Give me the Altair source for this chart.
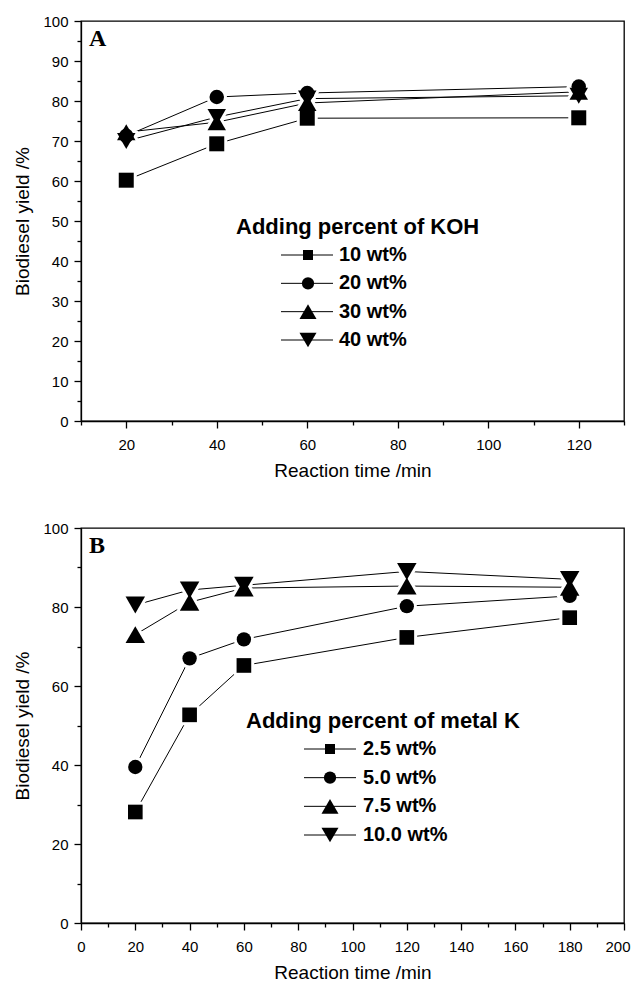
import altair as alt
import pandas as pd

# ---------------- data ----------------
a_time = [20, 40, 60, 120]
a_series = ["10 wt%", "20 wt%", "30 wt%", "40 wt%"]
a_10 = [60.2, 69.3, 75.7, 75.8]
a_20 = [71.3, 81.0, 82.0, 83.6]
a_30 = [72.2, 74.7, 79.5, 82.3]
a_40 = [70.0, 76.0, 80.6, 81.3]

b_time = [20, 40, 60, 120, 180]
b_series = ["2.5 wt%", "5.0 wt%", "7.5 wt%", "10.0 wt%"]
b_25 = [28.1, 52.7, 65.2, 72.3, 77.3]
b_50 = [39.5, 67.0, 71.8, 80.2, 82.8]
b_75 = [73.0, 81.2, 84.8, 85.3, 85.0]
b_100 = [80.5, 84.3, 85.5, 89.0, 87.0]

a_legend_title = "Adding percent of KOH"
b_legend_title = "Adding percent of metal K"
x_title = "Reaction time /min"
y_title = "Biodiesel yield /%"

shapes = ["square", "circle", "triangle-up", "triangle-down"]


def long_df(times, names, values):
    rows = []
    for name, vals in zip(names, values):
        for t, v in zip(times, vals):
            rows.append({"time": t, "yield": v, "series": name})
    return pd.DataFrame(rows)


def panel(df, names, sizes, leg_sizes, xdom, xstep, xmaj, ystep, ymaj, w, h, leg, letter, legend_title):
    xvals = list(range(xdom[0], xdom[1] + 1, xstep))
    yvals = list(range(0, 101, ystep))
    x = alt.X(
        "time:Q",
        scale=alt.Scale(domain=xdom, nice=False, zero=False),
        axis=alt.Axis(
            values=xvals,
            labelExpr=f"datum.value % {xmaj} == 0 ? datum.label : ''",
            tickSize={"condition": {"test": f"datum.value % {xmaj} == 0", "value": 7}, "value": 4},
            labelAlign={"condition": {"test": f"datum.value == {xdom[1]}", "value": "right"},
                        "value": "center"},
            labelOffset={"condition": {"test": f"datum.value == {xdom[1]}", "value": 6}, "value": 0},
            title=x_title,
            labelPadding=9,
            titlePadding=9,
            labelFlush=False,
            labelOverlap=False,
        ),
    )
    y = alt.Y(
        "yield:Q",
        scale=alt.Scale(domain=[0, 100], nice=False),
        axis=alt.Axis(
            values=yvals,
            labelExpr=f"datum.value % {ymaj} == 0 ? datum.label : ''",
            tickSize={"condition": {"test": f"datum.value % {ymaj} == 0", "value": 7}, "value": 4},
            title=y_title,
            labelPadding=6,
            titlePadding=10,
            labelFlush=False,
            labelOverlap=False,
        ),
    )
    shape = alt.Shape("series:N", scale=alt.Scale(domain=names, range=shapes), legend=None)
    size = alt.Size("series:N", scale=alt.Scale(type="ordinal", domain=names, range=sizes), legend=None)

    base = alt.Chart(df)
    lines = base.mark_line(color="black", strokeWidth=1).encode(x=x, y=y, detail="series:N", order="time:Q")
    halo = base.mark_point(filled=True, fill="white", stroke="white", strokeWidth=6,
                           strokeJoin="round", opacity=1).encode(x=x, y=y, shape=shape, size=size)
    marks = base.mark_point(filled=True, color="black", opacity=1, strokeWidth=0).encode(
        x=x, y=y, shape=shape, size=size)
    data_layer = alt.layer(lines, halo, marks)

    leg_df = pd.DataFrame({"series": names})
    ly = alt.Y("series:N", scale=alt.Scale(type="point", domain=names, range=[leg["y0"], leg["y1"]], padding=0),
               axis=None)
    lbase = alt.Chart(leg_df)
    lrule = lbase.mark_rule(color="black", strokeWidth=1).encode(
        x=alt.value(leg["lx0"]), x2=alt.value(leg["lx1"]), y=ly)
    lpts = lbase.mark_point(filled=True, color="black", opacity=1, strokeWidth=0).encode(
        x=alt.value(leg["sx"]), y=ly,
        shape=alt.Shape("series:N", scale=alt.Scale(domain=names, range=shapes), legend=None),
        size=alt.Size("series:N", scale=alt.Scale(type="ordinal", domain=names, range=leg_sizes), legend=None))
    ltext = lbase.mark_text(align="left", baseline="middle", font="Liberation Sans", fontWeight="bold",
                            fontSize=20, color="black").encode(x=alt.value(leg["tx"]), y=ly, text="series:N")
    ltitle = alt.Chart(pd.DataFrame({"t": [legend_title]})).mark_text(
        align="left", baseline="middle", font="Liberation Sans", fontWeight="bold", fontSize=22,
        color="black").encode(x=alt.value(leg["hx"]), y=alt.value(leg["hy"]), text="t:N")
    lletter = alt.Chart(pd.DataFrame({"t": [letter]})).mark_text(
        align="left", baseline="alphabetic", font="Liberation Serif", fontWeight="bold", fontSize=24,
        color="black").encode(x=alt.value(8), y=alt.value(25), text="t:N")
    leg_layer = alt.layer(lrule, lpts, ltext, ltitle, lletter)

    return alt.layer(data_layer, leg_layer).resolve_scale(
        y="independent", shape="independent", size="independent").properties(width=w, height=h)


df_a = long_df(a_time, a_series, [a_10, a_20, a_30, a_40])
df_b = long_df(b_time, b_series, [b_25, b_50, b_75, b_100])

panel_a = panel(df_a, a_series, [225, 210, 340, 340], [100, 150, 290, 290],
                [10, 130], 10, 20, 5, 10, 543, 400,
                dict(y0=234, y1=319, sx=227, lx0=200, lx1=252, tx=258, hx=155, hy=206),
                "A", a_legend_title)
panel_b = panel(df_b, b_series, [215, 205, 380, 380], [100, 150, 290, 290],
                [0, 200], 10, 20, 10, 20, 543, 395,
                dict(y0=221, y1=307, sx=249, lx0=223, lx1=275, tx=282, hx=165, hy=193),
                "B", b_legend_title)

chart = alt.vconcat(panel_a, panel_b, spacing=39).properties(
    padding={"left": 5, "top": 5, "right": 0, "bottom": 0}
).configure_view(
    stroke="black", strokeWidth=1.3
).configure_axis(
    grid=False, domainColor="black", domainWidth=1.3, tickColor="black", tickWidth=1.3,
    labelFont="Liberation Sans", labelFontSize=15, labelColor="black",
    titleFont="Liberation Sans", titleFontSize=19, titleFontWeight="normal", titleColor="black",
)

chart.save("out.html", embed_options={"renderer": "svg", "actions": False})
